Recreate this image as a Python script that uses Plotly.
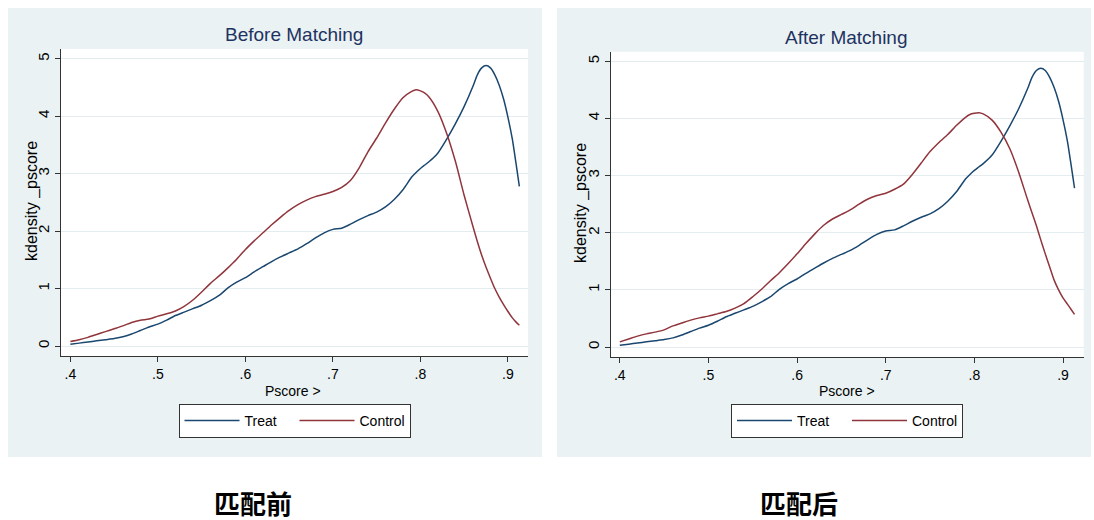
import plotly.graph_objects as go

# ---------------- data ----------------
pscore = [0.400, 0.410, 0.420, 0.430, 0.440, 0.450, 0.460, 0.470, 0.480, 0.490,
          0.500, 0.510, 0.520, 0.530, 0.540, 0.550, 0.560, 0.570, 0.580, 0.590,
          0.600, 0.610, 0.620, 0.630, 0.640, 0.650, 0.660, 0.670, 0.680, 0.690,
          0.700, 0.710, 0.720, 0.730, 0.740, 0.750, 0.760, 0.770, 0.780, 0.790,
          0.795, 0.800, 0.805, 0.810, 0.820, 0.830, 0.840, 0.850, 0.860, 0.865,
          0.870, 0.875, 0.880, 0.885, 0.890, 0.895, 0.900, 0.905, 0.909, 0.913]

treat = [0.03, 0.05, 0.07, 0.09, 0.11, 0.13, 0.16, 0.21, 0.27, 0.33,
         0.38, 0.45, 0.53, 0.59, 0.65, 0.71, 0.79, 0.88, 1.01, 1.11,
         1.19, 1.29, 1.38, 1.47, 1.55, 1.62, 1.69, 1.78, 1.88, 1.97,
         2.03, 2.05, 2.12, 2.20, 2.27, 2.33, 2.42, 2.55, 2.72, 2.94,
         3.02, 3.09, 3.15, 3.21, 3.36, 3.60, 3.87, 4.17, 4.52, 4.72,
         4.84, 4.88, 4.84, 4.72, 4.54, 4.30, 3.98, 3.60, 3.20, 2.78]

control_before = [0.08, 0.11, 0.15, 0.20, 0.25, 0.30, 0.35, 0.41, 0.45, 0.47,
                  0.52, 0.56, 0.61, 0.69, 0.80, 0.94, 1.09, 1.22, 1.36, 1.51,
                  1.68, 1.83, 1.97, 2.11, 2.24, 2.36, 2.46, 2.54, 2.60, 2.64,
                  2.69, 2.76, 2.88, 3.10, 3.38, 3.62, 3.88, 4.12, 4.32, 4.43,
                  4.46, 4.44, 4.40, 4.33, 4.08, 3.70, 3.21, 2.62, 2.08, 1.82,
                  1.58, 1.37, 1.18, 1.00, 0.85, 0.72, 0.60, 0.49, 0.42, 0.36]

control_after = [0.09, 0.14, 0.19, 0.23, 0.26, 0.30, 0.37, 0.42, 0.47, 0.51,
                 0.54, 0.58, 0.62, 0.68, 0.76, 0.88, 1.01, 1.16, 1.30, 1.46,
                 1.63, 1.81, 1.98, 2.13, 2.24, 2.32, 2.40, 2.50, 2.59, 2.65,
                 2.69, 2.76, 2.85, 3.02, 3.22, 3.42, 3.58, 3.72, 3.88, 4.02,
                 4.07, 4.09, 4.10, 4.08, 3.97, 3.76, 3.47, 3.06, 2.58, 2.35,
                 2.12, 1.87, 1.63, 1.40, 1.17, 1.00, 0.86, 0.75, 0.66, 0.57]

panel_titles = ["Before Matching", "After Matching"]
captions = ["匹配前", "匹配后"]
series_names = ["Treat", "Control"]
x_tick_vals = [0.4, 0.5, 0.6, 0.7, 0.8, 0.9]
x_tick_text = [".4", ".5", ".6", ".7", ".8", ".9"]
y_tick_vals = [0, 1, 2, 3, 4, 5]
y_tick_text = ["0", "1", "2", "3", "4", "5"]
x_title = "Pscore >"
y_title = "kdensity _pscore"

# ---------------- style ----------------
W, H = 1094, 520
NAVY = "#1a476f"
MAROON = "#90353b"
PANEL_BG = "#eaf2f3"
GRID = "#e3ecee"
AXIS = "#333333"
TITLE_C = "#1e3262"
SANS = "Liberation Sans, Arial, sans-serif"
CJK = "Noto Sans CJK SC, sans-serif"


def px(x):
    return x / W


def py(y):
    return 1 - y / H


fig = go.Figure()

panels = [
    dict(ctrl=control_before, xa="x", ya="y", legend="legend"),
    dict(ctrl=control_after, xa="x2", ya="y2", legend="legend2"),
]
for p in panels:
    fig.add_trace(go.Scatter(x=pscore, y=treat, mode="lines", name=series_names[0],
                             line=dict(color=NAVY, width=1.5, shape="spline", smoothing=0.6),
                             xaxis=p["xa"], yaxis=p["ya"], legend=p["legend"], hoverinfo="skip"))
    fig.add_trace(go.Scatter(x=pscore, y=p["ctrl"], mode="lines", name=series_names[1],
                             line=dict(color=MAROON, width=1.5, shape="spline", smoothing=0.6),
                             xaxis=p["xa"], yaxis=p["ya"], legend=p["legend"], hoverinfo="skip"))

# geometry (pixels)
geo = [
    dict(bg=(8, 8, 542, 457), plot=(60.6, 49, 528, 356), xr=[0.3888, 0.9229], yr=[-0.174, 5.169],
         title=(294, 35), xt=(293, 390.5), yt=(32, 201), leg=(294.5, 421), cap=(253, 502)),
    dict(bg=(557, 8, 1091, 457), plot=(610.8, 51.7, 1083.7, 357), xr=[0.38985, 0.92335], yr=[-0.175, 5.168],
         title=(846, 37.5), xt=(847, 390.5), yt=(581, 203), leg=(847, 421), cap=(799, 502)),
]

shapes = []
annotations = []
axis_common = dict(showline=True, linecolor=AXIS, linewidth=1, ticks="outside", ticklen=5,
                   tickcolor=AXIS, tickwidth=1, zeroline=False, fixedrange=True)

for i, g in enumerate(geo):
    x0, y0, x1, y1 = g["bg"]
    shapes.append(dict(type="rect", xref="paper", yref="paper", layer="below",
                       x0=px(x0), x1=px(x1), y0=py(y1), y1=py(y0),
                       fillcolor=PANEL_BG, line=dict(width=0)))
    a0, b0, a1, b1 = g["plot"]
    shapes.append(dict(type="rect", xref="paper", yref="paper", layer="below",
                       x0=px(a0), x1=px(a1), y0=py(b1), y1=py(b0),
                       fillcolor="white", line=dict(width=0)))
    sfx = "" if i == 0 else "2"
    fig.layout["xaxis" + sfx] = dict(
        axis_common, domain=[px(a0), px(a1)], range=g["xr"], anchor="y" + sfx,
        tickvals=x_tick_vals, ticktext=x_tick_text, showgrid=False,
        tickfont=dict(family=SANS, size=14, color="black"))
    fig.layout["yaxis" + sfx] = dict(
        axis_common, domain=[py(b1), py(b0)], range=g["yr"], anchor="x" + sfx,
        tickvals=y_tick_vals, ticktext=y_tick_text, tickangle=-90,
        showgrid=True, gridcolor=GRID, gridwidth=1,
        tickfont=dict(family=SANS, size=15, color="black"))
    annotations += [
        dict(text=panel_titles[i], x=px(g["title"][0]), y=py(g["title"][1]), xref="paper", yref="paper",
             showarrow=False, xanchor="center", yanchor="middle",
             font=dict(family=SANS, size=19, color=TITLE_C)),
        dict(text=x_title, x=px(g["xt"][0]), y=py(g["xt"][1]), xref="paper", yref="paper",
             showarrow=False, xanchor="center", yanchor="middle",
             font=dict(family=SANS, size=14, color="black")),
        dict(text=y_title, x=px(g["yt"][0]), y=py(g["yt"][1]), xref="paper", yref="paper",
             showarrow=False, xanchor="center", yanchor="middle", textangle=-90,
             font=dict(family=SANS, size=16, color="black")),
        dict(text="<b>" + captions[i] + "</b>", x=px(g["cap"][0]), y=py(g["cap"][1]),
             xref="paper", yref="paper", showarrow=False, xanchor="center", yanchor="middle",
             font=dict(family=CJK, size=26, color="black")),
    ]
    fig.layout["legend" + sfx] = dict(
        orientation="h", x=px(g["leg"][0]), y=py(g["leg"][1]), xanchor="center", yanchor="middle",
        bgcolor="white", bordercolor=AXIS, borderwidth=1,
        font=dict(family=SANS, size=14, color="black"),
        itemwidth=55, entrywidth=45, itemclick=False, itemdoubleclick=False)

fig.update_layout(
    width=W, height=H, margin=dict(l=0, r=0, t=0, b=0),
    paper_bgcolor="white", plot_bgcolor="rgba(0,0,0,0)",
    shapes=shapes, annotations=annotations, showlegend=True,
)

fig.write_html("out.html", config={"displayModeBar": False},
               post_script="document.body.style.margin='0';document.body.style.padding='0';")
